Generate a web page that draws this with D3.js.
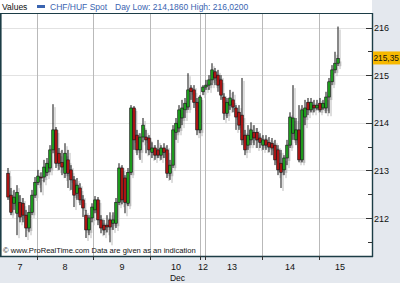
<!DOCTYPE html>
<html><head><meta charset="utf-8">
<script src="https://cdn.jsdelivr.net/npm/d3@7"></script>
<style>
body{margin:0;background:#e4e8ee}
svg{display:block}
text{font-family:"Liberation Sans",Arial,sans-serif}
</style>
</head><body>
<svg id="c" width="400" height="283"></svg>
<script>
const opens=[212.94,212.48,212.31,212.10,212.33,212.31,212.06,211.79,212.12,212.48,212.75,212.86,212.86,212.96,213.05,213.43,213.85,213.36,213.17,212.94,213.22,213.01,212.80,212.52,212.63,212.38,212.06,211.75,212.00,212.17,212.38,
211.96,211.85,211.85,211.96,211.89,211.89,212.33,213.05,212.84,212.31,212.96,214.31,213.74,213.43,213.70,213.70,213.68,213.38,213.47,213.43,213.32,213.47,213.43,212.94,213.11,213.80,213.89,214.10,214.27,214.33,214.73,214.69,214.43,213.85,214.65,214.75,214.79,214.90,215.07,215.00,214.90,214.54,214.20,214.37,214.48,214.31,214.22,214.16,213.74,213.53,213.64,213.80,213.80,213.68,213.53,213.64,213.59,213.57,213.53,213.43,213.15,213.01,213.26,213.53,213.78,213.64,213.85,213.22,214.12,214.43,214.27,214.37,214.31,214.41,214.31,214.31,214.54,214.86,215.11,215.25];
const highs=[213.05,212.63,212.59,212.69,212.48,212.42,212.17,212.27,212.59,212.86,213.01,212.96,213.22,213.26,213.53,214.39,213.91,213.47,213.43,213.57,213.43,213.11,212.88,212.84,212.73,212.48,212.17,212.06,212.31,212.46,212.44,
212.06,211.96,212.06,212.12,212.12,212.42,213.15,213.11,212.90,213.05,214.37,214.35,213.85,213.78,214.10,213.85,213.74,213.59,213.53,213.64,213.53,213.57,213.53,213.22,213.95,214.10,214.37,214.48,214.52,215.04,214.79,214.79,214.52,214.58,214.79,214.90,215.00,215.25,215.15,215.11,215.00,214.62,214.52,214.69,214.65,214.37,214.37,214.94,213.85,213.95,214.01,213.95,213.89,213.78,213.74,213.74,213.70,213.68,213.64,213.53,213.43,213.32,213.64,214.22,214.79,214.10,214.37,214.37,214.48,214.52,214.52,214.48,214.48,214.52,214.48,214.65,214.94,215.21,215.49,216.02];
const lows=[212.38,212.06,212.17,211.64,211.91,211.91,211.60,211.70,212.06,212.42,212.69,212.54,212.75,212.88,212.96,213.36,213.05,213.01,212.90,212.84,212.63,212.59,212.23,212.38,212.27,212.02,211.58,211.64,211.91,212.10,211.85,
211.68,211.64,211.70,211.49,211.75,211.79,212.27,212.29,212.10,212.25,212.90,213.43,213.32,213.22,213.59,213.36,213.32,213.26,213.22,213.26,213.22,213.26,212.84,212.80,213.05,213.64,213.80,213.95,214.10,214.27,214.48,214.31,213.74,213.78,214.58,214.69,214.69,214.79,214.79,214.65,214.48,214.06,214.10,214.27,214.22,213.85,213.85,213.53,213.32,213.43,213.53,213.53,213.47,213.47,213.43,213.43,213.38,213.32,213.11,212.90,212.63,212.90,213.11,213.47,213.64,213.53,213.17,213.17,213.95,214.16,214.22,214.22,214.27,214.22,214.27,214.20,214.20,214.79,215.04,215.19];
const closes=[212.44,212.12,212.44,212.54,212.02,212.06,211.79,212.12,212.48,212.75,212.88,212.84,213.07,213.15,213.43,213.85,213.15,213.15,213.07,213.36,212.94,212.80,212.48,212.69,212.38,212.21,211.75,212.00,212.23,212.38,211.96,
211.79,211.75,211.81,211.81,211.96,212.33,213.05,212.38,212.33,212.96,214.31,213.64,213.43,213.70,213.95,213.64,213.43,213.47,213.32,213.32,213.47,213.38,212.94,213.11,213.85,213.99,214.27,214.31,214.41,214.69,214.65,214.43,213.85,214.54,214.75,214.79,214.90,215.11,214.94,214.79,214.58,214.20,214.43,214.52,214.33,214.12,213.95,213.64,213.43,213.74,213.85,213.68,213.64,213.59,213.64,213.53,213.49,213.47,213.22,213.01,212.96,213.26,213.53,214.12,214.10,213.85,213.22,214.27,214.31,214.27,214.43,214.31,214.37,214.27,214.41,214.54,214.86,215.11,215.25,215.35];
const dayBreaks=[9.7,28.3,47.3,64,65.7,84.7,103.7];
const dayLabels=["7","8","9","10","12","13","14","15"];
const dayLabelPos=[4,19,38,56,65,74.7,94,110.7];
const monthLabel="Dec", monthPos=56.5;
const yTicks=[212,213,214,215,216];
const yMinor=[211.5,212.5,213.5,214.5,215.5];
const lastPrice=215.35;
const seriesName="CHF/HUF Spot";
const dayLow="214,1860", dayHigh="216,0200";

const svg=d3.select("#c");
const L=1.5,R=372,T=13,B=256;
const n=closes.length;
const x=d3.scaleLinear().domain([0,n-1]).range([8,338]);
const y=d3.scaleLinear().domain([212,216]).range([218,27.5]);
const fmt=v=>d3.format(".2f")(v).replace(".",",");

svg.append("rect").attr("x",0).attr("y",0).attr("width",R).attr("height",B).attr("fill","#fff");

svg.append("g").selectAll("line").data(yTicks).join("line")
 .attr("x1",L).attr("x2",R).attr("y1",d=>Math.round(y(d))+0.5).attr("y2",d=>Math.round(y(d))+0.5)
 .attr("stroke","#e2e2e2").attr("stroke-width",1.2);
svg.append("g").selectAll("line").data(dayBreaks).join("line")
 .attr("x1",d=>Math.round(x(d))+0.5).attr("x2",d=>Math.round(x(d))+0.5).attr("y1",T).attr("y2",B)
 .attr("stroke","#b9b9b9").attr("stroke-width",1);

const data=d3.range(n).map(i=>({i,o:opens[i],h:highs[i],l:lows[i],c:closes[i]}));
const bw=2.6;
const sh=svg.append("g").attr("transform","translate(2,3)").attr("fill","#bcbcbc").attr("stroke","#bcbcbc");
sh.selectAll("line").data(data).join("line")
 .attr("x1",d=>x(d.i)).attr("x2",d=>x(d.i)).attr("y1",d=>y(d.h)).attr("y2",d=>y(d.l)).attr("stroke-width",1);
sh.selectAll("rect").data(data).join("rect")
 .attr("x",d=>x(d.i)-bw/2).attr("width",bw)
 .attr("y",d=>y(Math.max(d.o,d.c))).attr("height",d=>Math.max(1,Math.abs(y(d.o)-y(d.c)))).attr("stroke","none");
const cg=svg.append("g");
cg.selectAll("line").data(data).join("line")
 .attr("x1",d=>x(d.i)).attr("x2",d=>x(d.i)).attr("y1",d=>y(d.h)).attr("y2",d=>y(d.l))
 .attr("stroke","#111").attr("stroke-width",1);
cg.selectAll("rect").data(data).join("rect")
 .attr("x",d=>x(d.i)-bw/2).attr("width",bw)
 .attr("y",d=>y(Math.max(d.o,d.c))).attr("height",d=>Math.max(1,Math.abs(y(d.o)-y(d.c))))
 .attr("fill",d=>d.c>=d.o?"#1d9a1d":"#a81414").attr("stroke","#111").attr("stroke-width",0.6);

svg.append("text").attr("x",3).attr("y",253).attr("font-size",7.6).attr("fill","#111")
 .text("© www.ProRealTime.com Data are given as an indication");

svg.append("rect").attr("x",0).attr("y",0).attr("width",R).attr("height",T).attr("fill","#fff");
svg.append("text").attr("x",2).attr("y",10).attr("font-size",8.5).attr("fill","#111").text("Values");
svg.append("rect").attr("x",37).attr("y",5).attr("width",8).attr("height",3).attr("fill","#3a64b0");
svg.append("text").attr("x",50).attr("y",10).attr("font-size",8.5).attr("fill","#3a64b0").text(seriesName);
svg.append("text").attr("x",115).attr("y",10).attr("font-size",8.5).attr("fill","#3a64b0")
 .text("Day Low: "+dayLow+" High: "+dayHigh);

const fc="#1c3d46";
svg.append("line").attr("x1",0).attr("x2",R+1).attr("y1",T+0.5).attr("y2",T+0.5).attr("stroke",fc).attr("stroke-width",1.2);
svg.append("line").attr("x1",0.8).attr("x2",0.8).attr("y1",T).attr("y2",B).attr("stroke",fc).attr("stroke-width",1.6);
svg.append("line").attr("x1",R+0.5).attr("x2",R+0.5).attr("y1",T).attr("y2",B+1).attr("stroke",fc).attr("stroke-width",1.4);
svg.append("line").attr("x1",0).attr("x2",R+1).attr("y1",B+0.5).attr("y2",B+0.5).attr("stroke",fc).attr("stroke-width",1.4);

const ax=svg.append("g");
ax.selectAll("line.maj").data(yTicks).join("line").attr("class","maj")
 .attr("x1",R-6).attr("x2",R).attr("y1",d=>Math.round(y(d))+0.5).attr("y2",d=>Math.round(y(d))+0.5).attr("stroke","#333");
ax.selectAll("line.min").data(yMinor).join("line").attr("class","min")
 .attr("x1",R-4).attr("x2",R).attr("y1",d=>Math.round(y(d))+0.5).attr("y2",d=>Math.round(y(d))+0.5).attr("stroke","#333");
ax.selectAll("text").data(yTicks).join("text")
 .attr("x",R+2).attr("y",d=>y(d)+3.5).attr("font-size",9).attr("fill","#111").text(d=>d);

const ly=y(lastPrice);
svg.append("rect").attr("x",R+1).attr("y",ly-7).attr("width",400-R).attr("height",13).attr("fill","#f6b800");
svg.append("text").attr("x",R+1.5).attr("y",ly+3).attr("font-size",8.3).attr("fill","#111").text(fmt(lastPrice));

svg.append("g").selectAll("line").data(dayBreaks).join("line")
 .attr("x1",d=>Math.round(x(d))+0.5).attr("x2",d=>Math.round(x(d))+0.5).attr("y1",B).attr("y2",B+4).attr("stroke","#333");
svg.append("g").selectAll("text").data(dayLabels).join("text")
 .attr("x",(d,i)=>x(dayLabelPos[i])).attr("y",270).attr("text-anchor","middle").attr("font-size",9).attr("fill","#111").text(d=>d);
svg.append("text").attr("x",x(monthPos)).attr("y",281).attr("text-anchor","middle").attr("font-size",8.5).attr("fill","#111").text(monthLabel);
</script>
</body></html>
